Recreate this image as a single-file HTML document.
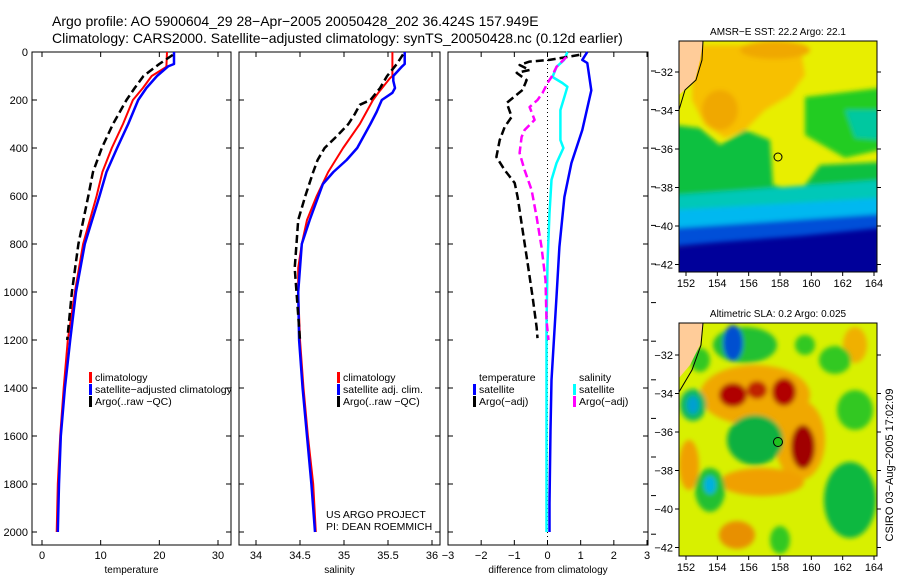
<!DOCTYPE html>
<html><head><meta charset="utf-8"><style>
html,body{margin:0;padding:0;background:#fff;}
svg{display:block;font-family:"Liberation Sans",sans-serif;}
</style></head><body>
<svg id="chart" width="900" height="580" viewBox="0 0 900 580" xmlns="http://www.w3.org/2000/svg">
<defs>
<filter id="bl" x="-20%" y="-20%" width="140%" height="140%"><feGaussianBlur stdDeviation="2.5"/></filter>
<clipPath id="c1"><rect x="679" y="41" width="198" height="231"/></clipPath>
<clipPath id="c2"><rect x="679" y="323" width="198" height="233"/></clipPath>
</defs>
<text x="52" y="26" font-size="14">Argo profile: AO 5900604_29 28−Apr−2005 20050428_202 36.424S 157.949E</text>
<text x="52" y="43" font-size="14">Climatology: CARS2000. Satellite−adjusted climatology: synTS_20050428.nc (0.12d earlier)</text>

<g id="p1"></g>
<g id="p2"></g>
<g id="p3"></g>

<!-- Map 1: SST -->
<g>
<text x="778" y="35" font-size="10" text-anchor="middle">AMSR−E SST: 22.2 Argo: 22.1</text>
<g clip-path="url(#c1)">
<rect x="679" y="41" width="198" height="231" fill="#e8ee00"/>
<g filter="url(#bl)">
<path d="M692,45 L800,45 L805,75 L790,95 L765,110 L745,130 L725,138 L705,125 L692,100 Z" fill="#f7c000"/>
<ellipse cx="775" cy="50" rx="35" ry="9" fill="#f0a800"/>
<ellipse cx="720" cy="110" rx="18" ry="20" fill="#f0a800"/>
<path d="M805,97 L880,88 L880,150 L845,158 L805,135 Z" fill="#22cc22"/>
<path d="M845,110 L880,110 L880,140 L855,138 Z" fill="#00c8a0"/>
<path d="M675,125 L700,128 L720,145 L745,130 L770,140 L773,185 L800,192 L820,165 L880,162 L880,188 L675,200 Z" fill="#10c040"/>
<path d="M675,195 L880,180 L880,212 L675,216 Z" fill="#00c8b8"/>
<path d="M675,210 L880,198 L880,232 L675,236 Z" fill="#00b8f0"/>
<path d="M675,228 L880,214 L880,245 L675,250 Z" fill="#0050d8"/>
</g>
<path d="M675,246 L720,242 L800,236 L880,228 L880,275 L675,275 Z" fill="#00009a" filter="url(#bl)"/>
<path d="M679,41 L703,41 L700,60 L695,80 L679,95 Z" fill="#ffcc99"/>
<path d="M703,41 L702,60 L696,80 L685,90 L679,110" fill="none" stroke="#000" stroke-width="1"/>
</g>
<circle cx="778" cy="157" r="4" fill="none" stroke="#000" stroke-width="1"/>
<rect x="679" y="41" width="198" height="231" fill="none" stroke="#000"/>
</g>

<!-- Map 2: SLA -->
<g>
<text x="778" y="317" font-size="10" text-anchor="middle">Altimetric SLA: 0.2 Argo: 0.025</text>
<g clip-path="url(#c2)">
<rect x="679" y="323" width="198" height="233" fill="#d8f000"/>
<g filter="url(#bl)">
<ellipse cx="755" cy="395" rx="55" ry="30" fill="#f0a800"/>
<ellipse cx="800" cy="440" rx="25" ry="40" fill="#f0a800"/>
<ellipse cx="762" cy="482" rx="42" ry="14" fill="#f0a000"/>
<ellipse cx="737" cy="535" rx="18" ry="14" fill="#e89000"/>
<ellipse cx="689" cy="465" rx="10" ry="25" fill="#f0a000"/>
<ellipse cx="855" cy="345" rx="12" ry="18" fill="#f0b000"/>
<ellipse cx="733" cy="395" rx="14" ry="12" fill="#b00000"/>
<ellipse cx="757" cy="390" rx="10" ry="9" fill="#c02000"/>
<ellipse cx="784" cy="392" rx="12" ry="14" fill="#b00000"/>
<ellipse cx="803" cy="447" rx="12" ry="22" fill="#a00000"/>
<ellipse cx="755" cy="440" rx="28" ry="25" fill="#10b040"/>
<ellipse cx="745" cy="345" rx="32" ry="18" fill="#20c030"/>
<ellipse cx="733" cy="343" rx="10" ry="18" fill="#0050d0"/>
<ellipse cx="693" cy="405" rx="13" ry="16" fill="#10b860"/>
<ellipse cx="693" cy="405" rx="6" ry="9" fill="#00a0d0"/>
<ellipse cx="710" cy="490" rx="15" ry="22" fill="#20c030"/>
<ellipse cx="710" cy="485" rx="6" ry="9" fill="#00b0e0"/>
<ellipse cx="850" cy="500" rx="26" ry="38" fill="#10b840"/>
<ellipse cx="855" cy="410" rx="18" ry="20" fill="#30c820"/>
<ellipse cx="835" cy="360" rx="16" ry="14" fill="#30c820"/>
<ellipse cx="805" cy="345" rx="10" ry="10" fill="#30c820"/>
<ellipse cx="780" cy="540" rx="10" ry="14" fill="#30c820"/>
<ellipse cx="700" cy="360" rx="10" ry="12" fill="#30c820"/>
</g>
<path d="M679,323 L703,323 L700,345 L690,365 L679,378 Z" fill="#ffcc99"/>
<path d="M703,323 L701,345 L692,370 L679,392" fill="none" stroke="#000" stroke-width="1"/>
</g>
<circle cx="778" cy="442" r="4.5" fill="#20c020" stroke="#000" stroke-width="1"/>
<rect x="679" y="323" width="198" height="233" fill="none" stroke="#000"/>
</g>
<g id="mapaxes"></g>
<text transform="translate(893,465) rotate(-90)" font-size="11" text-anchor="middle">CSIRO 03−Aug−2005 17:02:09</text>
</svg>
<script>
// ---- data ----
const tClimDepth = [0,60,65,100,150,200,300,400,500,600,800,1000,1200,1400,1600,1800,2000];
const tClimVal   = [21.3,21.2,21.0,18.7,17.2,15.5,13.8,11.9,10.3,9.3,7.0,5.6,4.4,3.7,3.1,2.7,2.5];
const tSatDepth  = [0,50,60,100,150,200,300,400,500,600,800,1000,1200,1400,1600,1800,2000];
const tSatVal    = [22.5,22.5,21.5,19.6,17.8,16.4,14.7,12.8,11.0,9.8,7.3,5.8,4.8,3.9,3.2,2.9,2.7];
const tArgoDepth = [12,50,100,150,200,300,400,500,600,800,1000,1200];
const tArgoVal   = [22.3,20.0,17.3,15.8,14.4,12.1,10.2,8.7,7.9,6.2,5.1,4.3];

const sClimDepth = [0,100,110,170,200,300,400,500,600,700,800,900,1000,1200,1400,1600,1800,2000];
const sClimVal   = [35.55,35.55,35.52,35.39,35.33,35.18,34.99,34.82,34.69,34.58,34.52,34.48,34.48,34.5,34.54,34.59,34.65,34.68];
const sSatDepth  = [0,50,60,100,120,150,170,200,250,300,400,450,500,550,600,700,800,1000,1200,1400,1600,1800,2000];
const sSatVal    = [35.69,35.69,35.66,35.56,35.56,35.58,35.55,35.43,35.37,35.3,35.15,35.03,34.88,34.76,34.71,34.61,34.52,34.48,34.49,34.53,34.58,34.63,34.67];
const sArgoDepth = [10,50,100,150,200,220,260,300,350,400,450,500,600,700,800,900,1000,1200];
const sArgoVal   = [35.67,35.6,35.49,35.41,35.3,35.18,35.12,35.05,34.92,34.78,34.7,34.65,34.56,34.48,34.46,34.44,34.46,34.5];

const dTSatDepth = [0,33,46,160,325,463,604,812,1020,1158,1367,1575,1880,2000];
const dTSatVal   = [1.2,1.05,1.2,1.32,1.05,0.72,0.51,0.36,0.27,0.21,0.12,0.09,0.06,0.06];
const dSSatDepth = [0,33,62,104,129,145,187,242,367,400,463,533,671,879,1146,2000];
const dSSatVal   = [0.6,0.5,0.27,0.15,0.45,0.6,0.51,0.39,0.39,0.48,0.27,0.12,0.06,0.0,-0.03,-0.03];
const dTArgoDepth = [12,33,40,54,75,87,117,158,212,270,312,367,437,492,546,604,742,879,1021,1146,1192];
const dTArgoVal   = [0.96,0.06,-0.54,-0.84,-0.54,-0.93,-0.63,-0.75,-1.23,-1.08,-1.29,-1.44,-1.54,-1.29,-0.99,-0.9,-0.75,-0.6,-0.45,-0.33,-0.3];
const dSArgoDepth = [21,62,104,129,171,200,229,283,325,354,421,492,575,687,812,950,1117,1200];
const dSArgoVal   = [0.57,0.27,0.12,0,-0.15,-0.3,-0.54,-0.39,-0.69,-0.78,-0.84,-0.69,-0.48,-0.33,-0.18,-0.06,-0.03,0.03];

const depthTicks = [0,200,400,600,800,1000,1200,1400,1600,1800,2000];
const tTicks = [0,10,20,30];
const sTicks = [34,34.5,35,35.5,36];
const dTicks = [-3,-2,-1,0,1,2,3];
const lonTicks = [152,154,156,158,160,162,164];
const latTicks = [-32,-34,-36,-38,-40,-42];

// ---- helpers ----
const NS = "http://www.w3.org/2000/svg";
function mk(tag, attrs, parent){const e=document.createElementNS(NS,tag);for(const k in attrs)e.setAttribute(k,attrs[k]);parent.appendChild(e);return e;}
const Y = d => 52 + d*0.24;
const TOP=52, BOT=545;
function lin(d0,d1,p0,p1){return v=>p0+(v-d0)*(p1-p0)/(d1-d0);}
const xT = lin(0,30,42,218), xS = lin(34,36,256,432), xD = lin(-3,3,448,647);

function frame(g,x0,x1,xs,ticks,fmt,label,ylabels){
  const r=mk('rect',{x:x0,y:TOP,width:x1-x0,height:BOT-TOP,fill:'none',stroke:'#000','stroke-width':1},g);
  
  
  depthTicks.forEach(d=>{
    mk('line',{x1:x0,x2:x0+5,y1:Y(d),y2:Y(d),stroke:'#000'},g);
    mk('line',{x1:x1-5,x2:x1,y1:Y(d),y2:Y(d),stroke:'#000'},g);
    if(ylabels){const t=mk('text',{x:28,y:Y(d)+4,'font-size':11,'text-anchor':'end'},g);t.textContent=d;
      
      }
  });
  ticks.forEach(v=>{const x=xs(v);
    mk('line',{x1:x,x2:x,y1:TOP,y2:TOP+5,stroke:'#000'},g);
    mk('line',{x1:x,x2:x,y1:BOT-5,y2:BOT,stroke:'#000'},g);
    const t=mk('text',{x:x,y:559,'font-size':11,'text-anchor':'middle'},g);t.textContent=fmt(v);
    
    
  });
  const l=mk('text',{x:(x0+x1)/2,y:573,'font-size':10,'text-anchor':'middle'},g);l.textContent=label;
  
  
}
function series(g,depths,vals,xs,color,w,dash,name){
  const pts=depths.map((d,i)=>xs(vals[i]).toFixed(1)+','+Y(d).toFixed(1)).join(' ');
  const a={points:pts,fill:'none',stroke:color,'stroke-width':w,'stroke-linejoin':'round'};
  if(dash)a['stroke-dasharray']=dash;
  const p=mk('polyline',a,g);
  
  
}
function legend(g,x,y,items){
  items.forEach((it,i)=>{
    const yy=y+i*12;
    if(it[0]) { const b=mk('rect',{x:x,y:yy-9,width:3,height:11,fill:it[0]},g);
      
       }
    const t=mk('text',{x:x+6,y:yy,'font-size':10.5},g);t.textContent=it[1];
    
    
  });
}
const minus = v => String(v).replace('-','−');

const p1=document.getElementById('p1');
frame(p1,32,231,xT,tTicks,v=>v,'temperature',true);
series(p1,tClimDepth,tClimVal,xT,'#ff0000',2,null,'temp-climatology-line');
series(p1,tSatDepth,tSatVal,xT,'#0000ff',2.5,null,'temp-satellite-line');
series(p1,tArgoDepth,tArgoVal,xT,'#000',2.5,'8,4','temp-argo-line');
legend(p1,89,381,[['#ff0000','climatology'],['#0000ff','satellite−adjusted climatology'],['#000','Argo(..raw −QC)']]);

const p2=document.getElementById('p2');
frame(p2,239,440,xS,sTicks,v=>v,'salinity',false);
series(p2,sClimDepth,sClimVal,xS,'#ff0000',2,null,'sal-climatology-line');
series(p2,sSatDepth,sSatVal,xS,'#0000ff',2.5,null,'sal-satellite-line');
series(p2,sArgoDepth,sArgoVal,xS,'#000',2.5,'8,4','sal-argo-line');
legend(p2,337,381,[['#ff0000','climatology'],['#0000ff','satellite adj. clim.'],['#000','Argo(..raw −QC)']]);
const n1=mk('text',{x:326,y:518,'font-size':10.5},p2);n1.textContent='US ARGO PROJECT';


const n2=mk('text',{x:326,y:530,'font-size':10.5},p2);n2.textContent='PI: DEAN ROEMMICH';



const p3=document.getElementById('p3');
frame(p3,448,648,xD,dTicks,minus,'difference from climatology',false);
const zl=mk('line',{x1:xD(0),x2:xD(0),y1:TOP,y2:BOT,stroke:'#000','stroke-width':1,'stroke-dasharray':'1,3'},p3);


series(p3,dTSatDepth,dTSatVal,xD,'#0000ff',2.5,null,'temp-satellite-diff-line');
series(p3,dSSatDepth,dSSatVal,xD,'#00ffff',2.5,null,'sal-satellite-diff-line');
series(p3,dTArgoDepth,dTArgoVal,xD,'#000',2.5,'8,4','temp-argo-diff-line');
series(p3,dSArgoDepth,dSArgoVal,xD,'#ff00ff',2.5,'8,4','sal-argo-diff-line');
legend(p3,473,381,[[null,'temperature'],['#0000ff','satellite'],['#000','Argo(−adj)']]);
legend(p3,573,381,[[null,'salinity'],['#00ffff','satellite'],['#ff00ff','Argo(−adj)']]);
for(let i=0;i<13;i++){const y=71+i*38.6; if(y>560)break; mk('line',{x1:651,x2:656,y1:y,y2:y,stroke:'#000'},p3);}

// map axes
const ma=document.getElementById('mapaxes');
const lonX=lin(152,164,686,874);
[[41,272,72],[323,556,355]].forEach(([t,b,y32])=>{
  lonTicks.forEach(v=>{const x=lonX(v);
    mk('line',{x1:x,x2:x,y1:b,y2:b+4,stroke:'#000'},ma);
    const tx=mk('text',{x:x,y:b+15,'font-size':11,'text-anchor':'middle'},ma);tx.textContent=v;
    
    });
  latTicks.forEach(v=>{const y=y32+(-32-v)*19.25;
    mk('line',{x1:675,x2:679,y1:y,y2:y,stroke:'#000'},ma);
    mk('line',{x1:877,x2:881,y1:y,y2:y,stroke:'#000'},ma);
    const tx=mk('text',{x:673,y:y+4,'font-size':11,'text-anchor':'end'},ma);tx.textContent=minus(v);
    
    });
});
</script>
</body></html>
